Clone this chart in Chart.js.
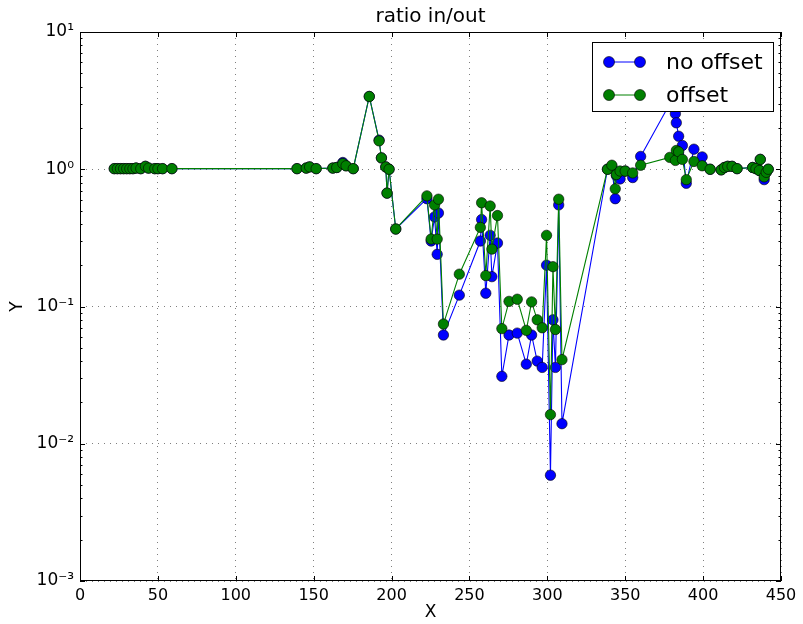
<!DOCTYPE html>
<html>
<head>
<meta charset="utf-8">
<script src="https://cdn.jsdelivr.net/npm/chart.js@4"></script>
<style>
  body { margin: 0; background: #fff; }
  canvas { display: block; }
</style>
</head>
<body>
<canvas id="ratioChart" width="803" height="624"></canvas>
<script>
// abscisses communes aux deux séries
const xValues = [
    22, 24, 26, 28, 30, 32, 34, 36, 39, 42, 44, 48, 50, 53, 59,
    139.3, 145.2, 147.4, 151.6, 162.3, 164.8, 168.7, 170.8, 175.4,
    185.7, 192, 193.5, 196.3, 197.1, 198.4, 202.7,
    222.7, 225.4, 227.6, 229.3, 230.1, 233.3, 243.5,
    257.0, 257.8, 260.5, 263.3, 264.4, 268.0, 270.8,
    275.4, 280.7, 286.5, 289.9, 293.5, 296.7, 299.5,
    302.0, 303.6, 305.2, 307.3, 309.4,
    338.6, 341.4, 343.6, 344.3, 346.7, 350, 354.8, 359.9,
    378.6, 382.2, 382.8, 384.3, 386.7, 389.2, 394.1, 399.4, 404.5,
    411.6, 413.7, 415.8, 418.6, 421.8, 431.8, 433.9, 436.1, 436.7, 439.2, 440.5, 441.8
];

const yNoOffset = [
    1.01, 1.01, 1.01, 1.01, 1.01, 1.01, 1.01, 1.02, 1.01, 1.05, 1.02, 1.01, 1.01, 1.01, 1.01,
    1.01, 1.02, 1.04, 1.01, 1.02, 1.03, 1.12, 1.06, 1.01,
    3.39, 1.63, 1.21, 1.04, 0.67, 1.0, 0.367,
    0.61, 0.30, 0.45, 0.24, 0.48, 0.062, 0.121,
    0.30, 0.43, 0.125, 0.33, 0.165, 0.29, 0.031,
    0.062, 0.064, 0.038, 0.062, 0.040, 0.036, 0.20,
    0.0059, 0.080, 0.036, 0.55, 0.014,
    1.0, 1.05, 0.61, 0.90, 0.85, 0.97, 0.87, 1.24,
    3.0, 2.54, 2.18, 1.74, 1.49, 0.79, 1.40, 1.23, 1.0,
    0.99, 1.03, 1.05, 1.05, 1.01, 1.03, 1.01, 0.98, 1.18, 0.84, 0.95, 1.0
];

const yOffset = [
    1.01, 1.01, 1.01, 1.01, 1.01, 1.01, 1.01, 1.02, 1.01, 1.05, 1.02, 1.01, 1.01, 1.01, 1.01,
    1.01, 1.02, 1.04, 1.01, 1.02, 1.03, 1.10, 1.06, 1.01,
    3.39, 1.61, 1.21, 1.04, 0.67, 1.0, 0.367,
    0.64, 0.31, 0.55, 0.31, 0.605, 0.0745, 0.172,
    0.377, 0.57, 0.168, 0.54, 0.262, 0.46, 0.069,
    0.109, 0.113, 0.067, 0.108, 0.080, 0.070, 0.33,
    0.0163, 0.195, 0.068, 0.605, 0.041,
    1.0, 1.07, 0.72, 0.915, 0.97, 0.97, 0.94, 1.07,
    1.22, 1.16, 1.37, 1.34, 1.18, 0.84, 1.14, 1.06, 1.0,
    0.99, 1.03, 1.05, 1.05, 1.01, 1.03, 1.01, 0.98, 1.18, 0.88, 0.95, 1.0
];

const seriesNames = ['no offset', 'offset'];
const seriesColors = ['#0000ff', '#008000'];

const xTickValues = [0, 50, 100, 150, 200, 250, 300, 350, 400, 450];
const yTickValues = [0.001, 0.01, 0.1, 1, 10];
const yTickLabels = ['10⁻³', '10⁻²', '10⁻¹', '10⁰', '10¹'];

const FONT = '"DejaVu Sans", sans-serif';

function toPoints(ys) {
    return xValues.map((x, i) => ({ x: x, y: ys[i] }));
}

// cadre, graduations internes, titres et légende façon matplotlib
const decorPlugin = {
    id: 'decor',
    afterDraw(chart) {
        const ctx = chart.ctx;
        const a = chart.chartArea;
        const xs = chart.scales.x;
        const ys = chart.scales.y;
        ctx.save();

        ctx.strokeStyle = '#000';
        ctx.lineWidth = 1;
        ctx.beginPath();
        xTickValues.forEach(v => {
            const px = Math.round(xs.getPixelForValue(v)) + 0.5;
            ctx.moveTo(px, a.bottom); ctx.lineTo(px, a.bottom - 5);
            ctx.moveTo(px, a.top); ctx.lineTo(px, a.top + 5);
        });
        yTickValues.forEach((v, i) => {
            const py = Math.round(ys.getPixelForValue(v)) + 0.5;
            ctx.moveTo(a.left, py); ctx.lineTo(a.left + 5, py);
            ctx.moveTo(a.right, py); ctx.lineTo(a.right - 5, py);
            if (i < yTickValues.length - 1) {
                for (let k = 2; k < 10; k++) {
                    const pm = Math.round(ys.getPixelForValue(v * k)) + 0.5;
                    ctx.moveTo(a.left, pm); ctx.lineTo(a.left + 2.5, pm);
                    ctx.moveTo(a.right, pm); ctx.lineTo(a.right - 2.5, pm);
                }
            }
        });
        ctx.stroke();

        ctx.strokeRect(Math.round(a.left) + 0.5, Math.round(a.top) + 0.5,
            Math.round(a.right - a.left) - 1, Math.round(a.bottom - a.top) - 1);

        ctx.fillStyle = '#000';
        ctx.textAlign = 'center';
        ctx.textBaseline = 'middle';
        ctx.font = '20px ' + FONT;
        ctx.fillText('ratio in/out', (a.left + a.right) / 2, 17);
        ctx.font = '17px ' + FONT;
        ctx.fillText('X', (a.left + a.right) / 2, 613);
        ctx.save();
        ctx.translate(18, (a.top + a.bottom) / 2);
        ctx.rotate(-Math.PI / 2);
        ctx.fillText('Y', 0, 0);
        ctx.restore();

        // légende
        const lx = 592, ly = 42, lw = 181, lh = 69;
        ctx.fillStyle = '#fff';
        ctx.fillRect(lx, ly, lw, lh);
        ctx.strokeStyle = '#000';
        ctx.strokeRect(lx + 0.5, ly + 0.5, lw, lh);
        ctx.font = '22px ' + FONT;
        ctx.textAlign = 'left';
        seriesNames.forEach((name, i) => {
            const cy = ly + 20 + i * 33;
            ctx.strokeStyle = seriesColors[i];
            ctx.lineWidth = 1;
            ctx.beginPath();
            ctx.moveTo(609, cy); ctx.lineTo(640, cy);
            ctx.stroke();
            [609, 640].forEach(mx => {
                ctx.beginPath();
                ctx.arc(mx, cy, 5.5, 0, Math.PI * 2);
                ctx.fillStyle = seriesColors[i];
                ctx.fill();
                ctx.strokeStyle = '#000';
                ctx.lineWidth = 0.6;
                ctx.stroke();
            });
            ctx.fillStyle = '#000';
            ctx.fillText(name, 666, cy + 1);
        });
        ctx.restore();
    }
};

const gridStyle = {
    color: 'rgba(0,0,0,0.5)',
    lineWidth: 1,
    drawTicks: false
};

new Chart(document.getElementById('ratioChart'), {
    type: 'line',
    data: {
        datasets: [
            {
                label: seriesNames[0],
                data: toPoints(yNoOffset),
                borderColor: seriesColors[0],
                backgroundColor: seriesColors[0],
                pointBorderColor: '#000',
                pointBorderWidth: 0.6,
                pointRadius: 5.2,
                borderWidth: 1.1,
                order: 1
            },
            {
                label: seriesNames[1],
                data: toPoints(yOffset),
                borderColor: seriesColors[1],
                backgroundColor: seriesColors[1],
                pointBorderColor: '#000',
                pointBorderWidth: 0.6,
                pointRadius: 5.2,
                borderWidth: 1.1,
                order: 0
            }
        ]
    },
    options: {
        responsive: false,
        animation: false,
        layout: { padding: { top: 32, right: 22, left: 0, bottom: 0 } },
        plugins: {
            legend: { display: false },
            title: { display: false },
            tooltip: { enabled: false }
        },
        scales: {
            x: {
                type: 'linear',
                min: 0,
                max: 450,
                afterFit: s => { s.height = 43; },
                afterBuildTicks: s => { s.ticks = xTickValues.map(v => ({ value: v })); },
                grid: gridStyle,
                border: { display: false, dash: [1, 5] },
                ticks: {
                    padding: 5,
                    color: '#000',
                    font: { family: FONT, size: 16 },
                    maxRotation: 0,
                    callback: v => String(v)
                }
            },
            y: {
                type: 'logarithmic',
                min: 0.001,
                max: 10,
                afterFit: s => { s.width = 80; },
                afterBuildTicks: s => { s.ticks = yTickValues.map(v => ({ value: v })); },
                grid: gridStyle,
                border: { display: false, dash: [1, 5] },
                ticks: {
                    padding: 6,
                    color: '#000',
                    font: { family: FONT, size: 17 },
                    callback: v => yTickLabels[yTickValues.indexOf(v)] || ''
                }
            }
        }
    },
    plugins: [decorPlugin]
});
</script>
</body>
</html>
